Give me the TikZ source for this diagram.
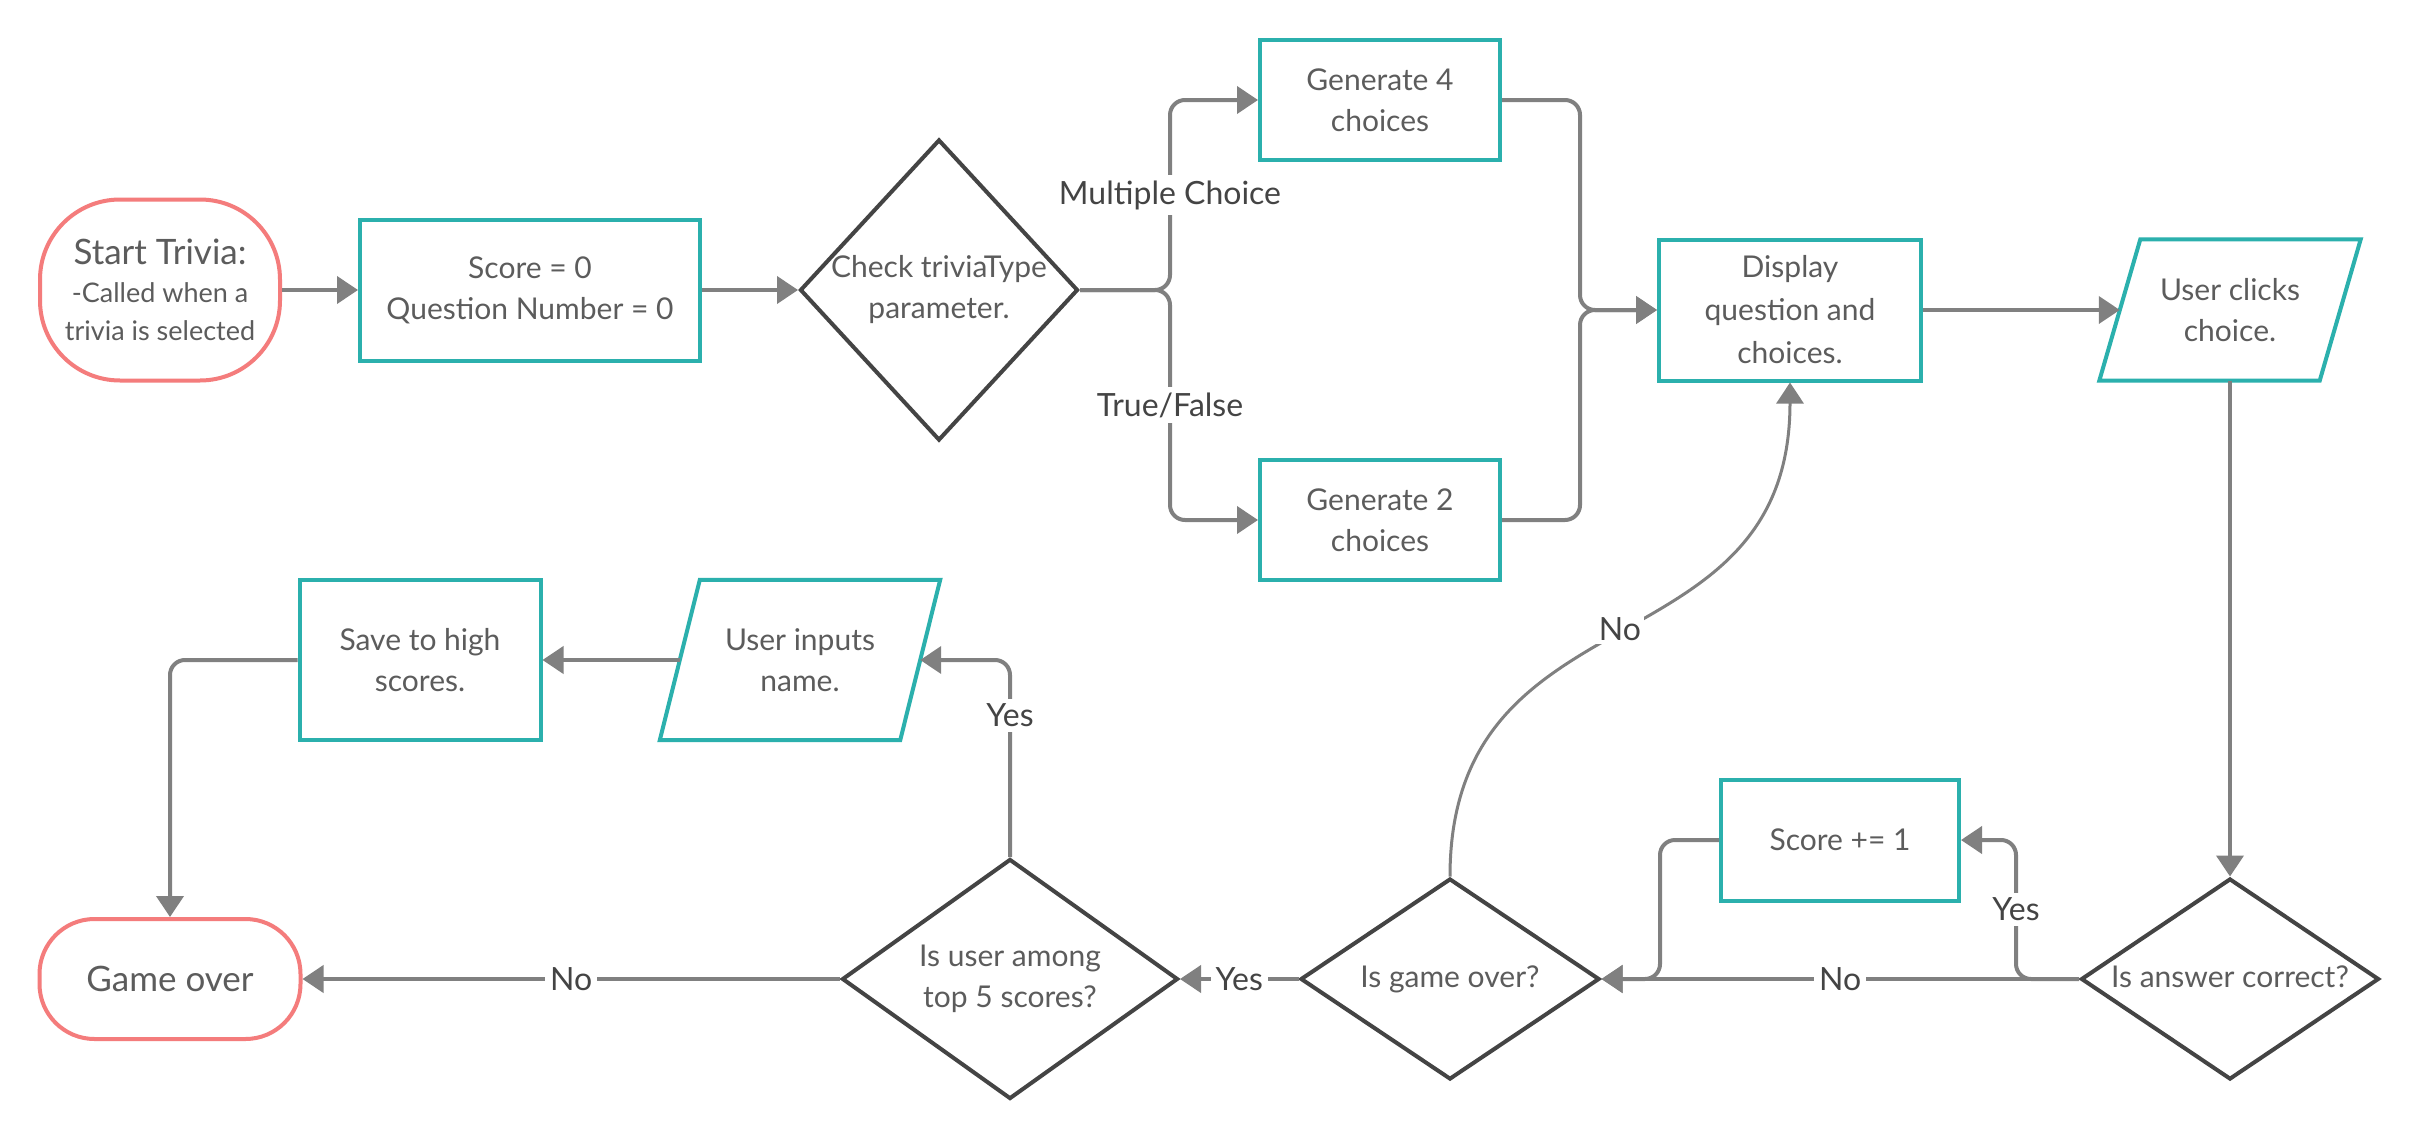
\documentclass[tikz,border=0pt]{standalone}
\usepackage{fontspec}
\setmainfont{Lato}
\usetikzlibrary{shapes.geometric,arrows.meta,calc}
\definecolor{tealc}{HTML}{2BB0AD}
\definecolor{redc}{HTML}{F47C7C}
\definecolor{conc}{HTML}{808080}
\definecolor{diac}{HTML}{444444}
\definecolor{txtc}{HTML}{5C5C5C}
\definecolor{lblc}{HTML}{444444}
\newcommand\dtxt[1]{\makebox[0pt]{\begin{tabular}{@{}c@{}}#1\end{tabular}}}
\begin{document}
\begin{tikzpicture}[x=1pt,y=-1pt,
  box/.style={draw=tealc,line width=4pt,fill=white,rectangle,inner sep=0pt,align=center,text=txtc,font=\fontsize{30}{41}\selectfont},
  term/.style={draw=redc,line width=4pt,fill=white,rectangle,rounded corners=#1,inner sep=0pt,align=center,text=txtc},
  dia/.style={draw=diac,line width=4pt,fill=white,diamond,inner sep=0pt,text=txtc,font=\fontsize{30}{41}\selectfont},
  paranode/.style={rectangle,inner sep=0pt,align=center,text=txtc,font=\fontsize{30}{41}\selectfont},
  paraline/.style={draw=tealc,line width=4pt},
  conn/.style={draw=conc,line width=4pt,rounded corners=15pt,-{Triangle[length=21pt,width=27pt]}},
  lbl/.style={fill=white,text=lblc,font=\fontsize{32}{40}\selectfont,inner sep=5pt,rounded corners=0pt},
]
\fill[white] (0,0) rectangle (2421,1140);
\useasboundingbox (0,0) rectangle (2421,1140);

% top row
\node[term=80pt,minimum width=240,minimum height=181,font=\fontsize{27}{38}\selectfont] (start) at (160,290)
  {{\fontsize{35}{38}\selectfont Start Trivia:}\\-Called when a\\trivia is selected};
\node[box,minimum width=340,minimum height=141] (s0) at (530,290) {Score = 0\\Question Number = 0};
\node[dia,minimum width=278,minimum height=301] (chk) at (939,290) {\dtxt{Check triviaType\\parameter.}};
\node[box,minimum width=240,minimum height=120] (gen4) at (1380,100) {Generate 4\\choices};
\node[box,minimum width=240,minimum height=120] (gen2) at (1380,520) {Generate 2\\choices};
\node[box,minimum width=262,minimum height=141,font=\fontsize{30}{43}\selectfont] (disp) at (1790,310) {Display\\question and\\choices.};
\node[paranode,minimum width=220,minimum height=141] (uc) at (2230,310) {User clicks\\choice.};
\draw[paraline] ($(uc.north west)+(20.5,0)$) -- ($(uc.north east)+(20.5,0)$) -- ($(uc.south east)+(-20.5,0)$) -- ($(uc.south west)+(-20.5,0)$) -- cycle;

% bottom row
\node[term=55pt,minimum width=261,minimum height=120,font=\fontsize{35}{42}\selectfont] (gover) at (170,979) {Game over};
\node[box,minimum width=241,minimum height=160] (save) at (420,660) {Save to high\\scores.};
\node[paranode,minimum width=240,minimum height=160] (ui) at (800,660) {User inputs\\name.};
\draw[paraline] ($(ui.north west)+(20,0)$) -- ($(ui.north east)+(20,0)$) -- ($(ui.south east)+(-20,0)$) -- ($(ui.south west)+(-20,0)$) -- cycle;
\node[dia,minimum width=336,minimum height=240] (top5) at (1010,979) {\dtxt{Is user among\\top 5 scores?}};
\node[dia,minimum width=299,minimum height=201] (godia) at (1450,979) {\dtxt{Is game over?}};
\node[box,minimum width=238,minimum height=121] (sc1) at (1840,840) {Score += 1};
\node[dia,minimum width=298,minimum height=201] (ans) at (2230,979) {\dtxt{Is answer correct?}};

% connectors
\draw[conn] (start.east) -- (s0.west);
\draw[conn] (s0.east) -- (chk.west);
\draw[conn] (chk.east) -- (1170,290) -- node[lbl]{Multiple Choice} (1170,100) -- (gen4.west);
\draw[conn] (chk.east) -- (1170,290) -- node[lbl]{True/False} (1170,520) -- (gen2.west);
\draw[conn] (gen4.east) -- (1580,100) -- (1580,310) -- (disp.west);
\draw[conn] (gen2.east) -- (1580,520) -- (1580,310) -- (disp.west);
\draw[conn] (disp.east) -- (uc.west);
\draw[conn] (uc.south) -- (ans.north);
\draw[conn] (ans.west) -- node[lbl]{No} (godia.east);
\draw[conn] (ans.west) -- ++(-63,0) -- node[lbl]{Yes} ++(0,-139) -- (sc1.east);
\draw[conn] (sc1.west) -- (1660,840) -- (1660,979) -- (godia.east);
\draw[conn,line width=3pt] (godia.north) .. controls (1450,584) and (1790,675) .. node[lbl,inner sep=3pt]{No} (disp.south);
\draw[conn] (godia.west) -- node[lbl]{Yes} (top5.east);
\draw[conn] (top5.west) -- node[lbl]{No} (gover.east);
\draw[conn] (top5.north) -- node[lbl,pos=0.72]{Yes} (1010,660) -- (ui.east);
\draw[conn] (ui.west) -- (save.east);
\draw[conn] (save.west) -- (170,660) -- (gover.north);
\end{tikzpicture}
\end{document}
